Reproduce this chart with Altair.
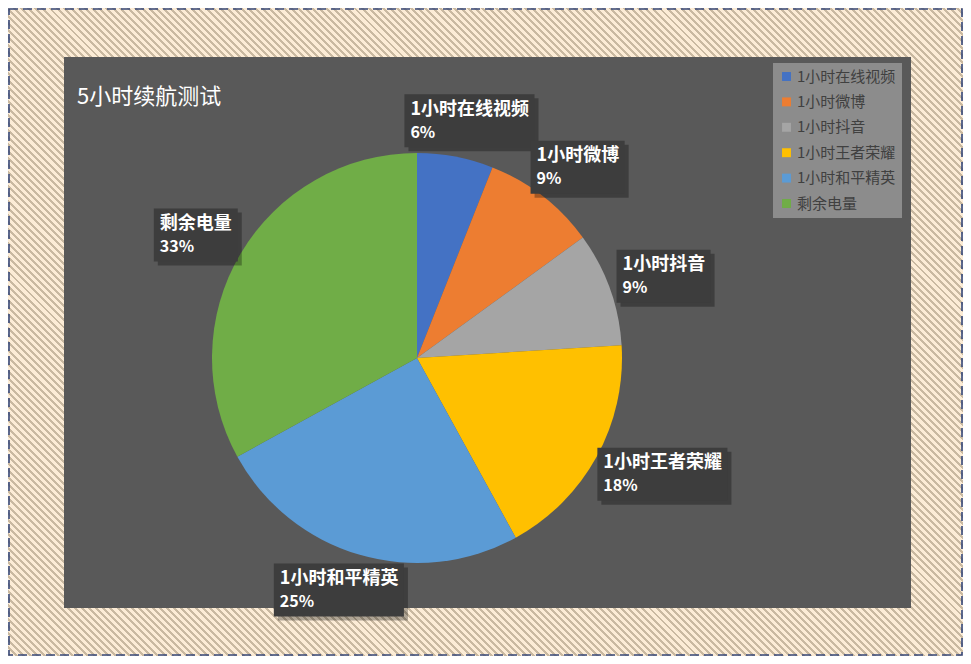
import altair as alt
import pandas as pd

# ---- data ----
names = ["1小时在线视频", "1小时微博", "1小时抖音", "1小时王者荣耀", "1小时和平精英", "剩余电量"]
values = [6, 9, 9, 18, 25, 33]
colors = ["#4472C4", "#ED7D31", "#A5A5A5", "#FFC000", "#5B9BD5", "#70AD47"]
chart_title = "5小时续航测试"

df = pd.DataFrame({"name": names, "value": values, "order": list(range(len(names)))})

# ---- layout / style ----
W, H = 955, 648
CX, CY, RAD = 409, 350, 205
ANCHOR_R = 215
BOX_H = 53
FS = 18
FONT = "Noto Sans CJK SC"

# hatched background via striped gradient
tan, cream = "#c9b9a1", "#fcecd6"
r = H / W
s = (1 + r) / (1 + r * r)
n = 226
stops = []
for i in range(n):
    t0 = round(i / n, 6)
    t1 = round((i + 0.42) / n, 6)
    t2 = round((i + 1) / n, 6)
    stops += [
        {"offset": t0, "color": tan},
        {"offset": t1, "color": tan},
        {"offset": t1, "color": cream},
        {"offset": t2, "color": cream},
    ]
grad = {"gradient": "linear", "stops": stops, "x1": 0, "y1": 1, "x2": s, "y2": 1 - r * s}

one = pd.DataFrame({"k": [0]})

bg = alt.Chart(one).mark_rect(fill=grad).encode(
    x=alt.value(0), x2=alt.value(W), y=alt.value(0), y2=alt.value(H)
)
border = alt.Chart(one).mark_rect(
    fillOpacity=0, stroke="#34477a", strokeWidth=1.6, strokeDash=[9, 5]
).encode(x=alt.value(1), x2=alt.value(W - 1), y=alt.value(1), y2=alt.value(H - 1))
panel = alt.Chart(one).mark_rect(fill="#595959").encode(
    x=alt.value(56), x2=alt.value(903), y=alt.value(49), y2=alt.value(600)
)
title = alt.Chart(one).mark_text(
    text=chart_title, font=FONT, fontSize=22, color="#ffffff", align="left", baseline="middle"
).encode(x=alt.value(69), y=alt.value(89))

pie = alt.Chart(df).mark_arc(radius=RAD).encode(
    theta=alt.Theta("value:Q", stack=True),
    order=alt.Order("order:Q"),
    color=alt.Color(
        "name:N",
        scale=alt.Scale(domain=names, range=colors),
        legend=alt.Legend(
            title=None, orient="none", legendX=765, legendY=55,
            fillColor="#8c8c8c", padding=6, symbolType="square", symbolSize=80,
            symbolStrokeWidth=0, labelFont=FONT, labelFontSize=15, labelColor="#404040",
            rowPadding=9.4, labelOffset=3, labelLimit=300,
        ),
    ),
    x=alt.value(CX),
    y=alt.value(CY),
)

base = (
    alt.Chart(df)
    .transform_joinaggregate(total="sum(value)")
    .transform_window(cum="sum(value)", sort=[alt.SortField("order")], frame=[None, 0])
    .transform_calculate(
        a="2*PI*(datum.cum - datum.value/2)/datum.total",
        nd="length(datum.name) - length(replace(datum.name, regexp('[0-9]','g'), ''))",
    )
    .transform_calculate(
        w=f"{FS}*(length(datum.name)-datum.nd) + {0.56*FS}*datum.nd + 12",
        pct="format(datum.value/datum.total, '.0%')",
    )
    .transform_calculate(
        bx=f"{CX} + {ANCHOR_R}*sin(datum.a) + sin(datum.a)*datum.w/2",
        by=f"{CY} - {ANCHOR_R}*cos(datum.a) - cos(datum.a)*{BOX_H}/2",
    )
    .transform_calculate(
        x1="datum.bx - datum.w/2",
        x2="datum.bx + datum.w/2",
        y1=f"datum.by - {BOX_H}/2",
        y2=f"datum.by + {BOX_H}/2",
        tx="datum.bx - datum.w/2 + 6",
        ty1="datum.by - 11",
        ty2="datum.by + 12",
        sx1="datum.bx - datum.w/2 + 4",
        sx2="datum.bx + datum.w/2 + 4",
        sy1=f"datum.by - {BOX_H}/2 + 4",
        sy2=f"datum.by + {BOX_H}/2 + 4",
    )
)

shadow = base.mark_rect(fill="#000000", opacity=0.3).encode(
    x=alt.X("sx1:Q", scale=None, axis=None),
    x2="sx2:Q",
    y=alt.Y("sy1:Q", scale=None, axis=None),
    y2="sy2:Q",
)
box = base.mark_rect(fill="#3d3d3d").encode(
    x=alt.X("x1:Q", scale=None, axis=None),
    x2="x2:Q",
    y=alt.Y("y1:Q", scale=None, axis=None),
    y2="y2:Q",
)
name_txt = base.mark_text(
    font=FONT, fontSize=FS, fontWeight="bold", color="#ffffff", align="left", baseline="middle"
).encode(
    x=alt.X("tx:Q", scale=None, axis=None),
    y=alt.Y("ty1:Q", scale=None, axis=None),
    text="name:N",
)
pct_txt = base.mark_text(
    font=FONT, fontSize=16, fontWeight="bold", color="#ffffff", align="left", baseline="middle"
).encode(
    x=alt.X("tx:Q", scale=None, axis=None),
    y=alt.Y("ty2:Q", scale=None, axis=None),
    text="pct:N",
)

chart = (
    alt.layer(bg, border, panel, title, pie, shadow, box, name_txt, pct_txt)
    .properties(width=W, height=H, padding=0, autosize=alt.AutoSizeParams(type="none"), background="#fcecd6")
    .configure_view(stroke=None)
)

chart.save("out.html", embed_options={"renderer": "svg", "actions": False})
